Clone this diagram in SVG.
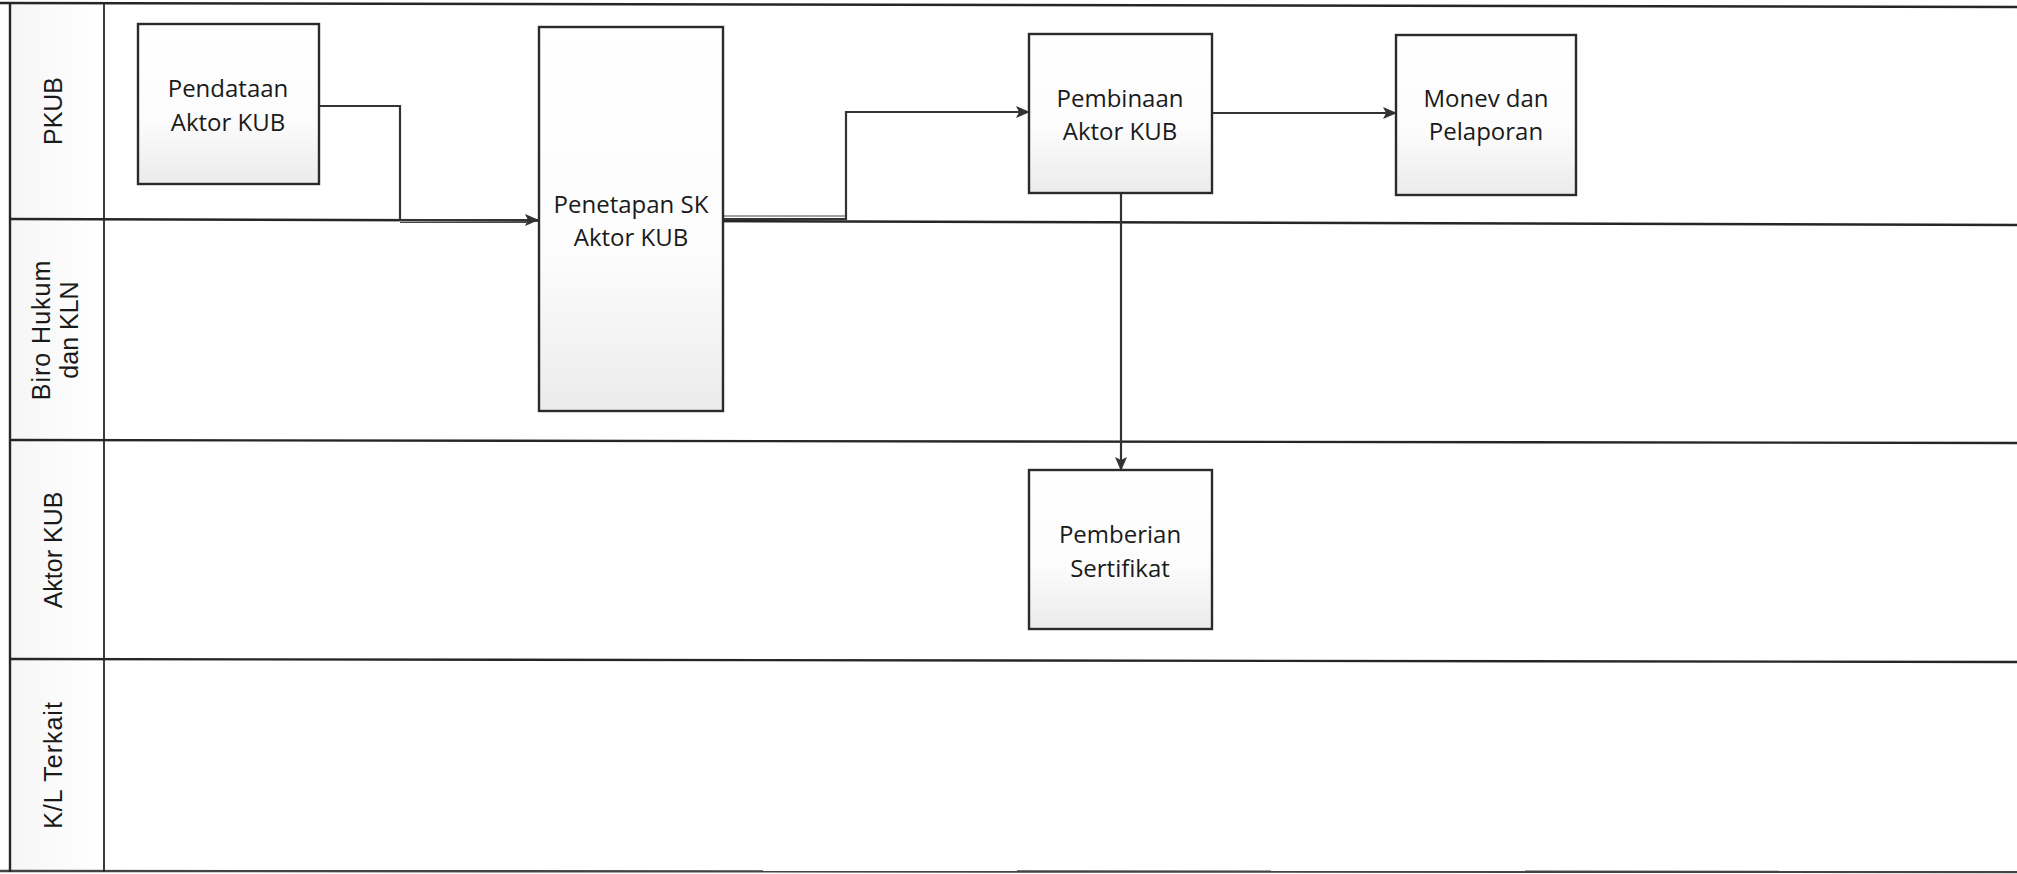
<svg xmlns="http://www.w3.org/2000/svg" width="2017" height="874" viewBox="0 0 2017 874">
<style>
.lane{stroke:#262626;stroke-width:2.4;fill:none}
.box{fill:url(#g);stroke:#2b2b2b;stroke-width:2.4}
.t{font-family:"Open Sans","Noto Sans",sans-serif;font-size:24px;fill:#1a1a1a;text-anchor:middle}
.lt{font-family:"Liberation Sans",Arial,sans-serif;font-size:25px;fill:#1a1a1a;text-anchor:middle}
.c{stroke:#333;stroke-width:2.2;fill:none}
</style>
<defs>
<linearGradient id="g" x1="0" y1="0" x2="0" y2="1">
<stop offset="0" stop-color="#ffffff"/>
<stop offset="0.6" stop-color="#fcfcfc"/>
<stop offset="1" stop-color="#ebebeb"/>
</linearGradient>
<linearGradient id="lg" x1="0" y1="0" x2="1" y2="0">
<stop offset="0" stop-color="#f6f6f6"/>
<stop offset="1" stop-color="#ffffff"/>
</linearGradient>
<marker id="ah" markerWidth="14" markerHeight="12" refX="13" refY="6" orient="auto" markerUnits="userSpaceOnUse">
<path d="M0,0 L14,6 L0,12 L3,6 Z" fill="#333"/>
</marker>
</defs>
<rect x="0" y="0" width="2017" height="874" fill="#ffffff"/>
<g id="lanes">
<rect x="10" y="4" width="94" height="867" fill="url(#lg)"/>
<line class="lane" x1="0" y1="3" x2="2017" y2="7"/>
<line class="lane" x1="10" y1="219" x2="2017" y2="225"/>
<line class="lane" x1="10" y1="440" x2="2017" y2="443"/>
<line class="lane" x1="10" y1="659" x2="2017" y2="662"/>
<line class="lane" x1="0" y1="871" x2="2017" y2="872" style="stroke:#444"/>
<line class="lane" x1="10" y1="3" x2="10" y2="872"/>
<line class="lane" x1="104" y1="3" x2="104" y2="872" style="stroke-width:1.8"/>
<text class="lt" transform="translate(62,111) rotate(-90)">PKUB</text>
<text class="lt" transform="translate(50,330) rotate(-90)" letter-spacing="1">Biro Hukum</text>
<text class="lt" transform="translate(78,330) rotate(-90)">dan KLN</text>
<text class="lt" transform="translate(62,550) rotate(-90)">Aktor KUB</text>
<text class="lt" transform="translate(62,765) rotate(-90)" letter-spacing="1">K/L Terkait</text>
</g>
<g id="connectors">
<polyline class="c" points="319,106 400,106 400,220 538,220" marker-end="url(#ah)"/>
<line x1="400" y1="222.5" x2="528" y2="222.5" stroke="#444" stroke-width="1.2"/>
<polyline class="c" points="723,219 846,219 846,112 1029,112" marker-end="url(#ah)"/>
<line x1="723" y1="216" x2="846" y2="216" stroke="#444" stroke-width="1.2"/>
<line class="c" x1="1212" y1="113" x2="1396" y2="113" marker-end="url(#ah)"/>
<line class="c" x1="1121" y1="193" x2="1121" y2="470" marker-end="url(#ah)"/>
</g>
<g id="n-pendataan">
<rect class="box" x="138" y="24" width="181" height="160"/>
<text class="t" x="228" y="97">Pendataan</text>
<text class="t" x="228" y="131">Aktor KUB</text>
</g>
<g id="n-penetapan">
<rect class="box" x="539" y="27" width="184" height="384"/>
<text class="t" x="631" y="213">Penetapan SK</text>
<text class="t" x="631" y="246">Aktor KUB</text>
</g>
<g id="n-pembinaan">
<rect class="box" x="1029" y="34" width="183" height="159"/>
<text class="t" x="1120" y="107">Pembinaan</text>
<text class="t" x="1120" y="140">Aktor KUB</text>
</g>
<g id="n-monev">
<rect class="box" x="1396" y="35" width="180" height="160"/>
<text class="t" x="1486" y="107">Monev dan</text>
<text class="t" x="1486" y="140">Pelaporan</text>
</g>
<g id="n-pemberian">
<rect class="box" x="1029" y="470" width="183" height="159"/>
<text class="t" x="1120" y="543">Pemberian</text>
<text class="t" x="1120" y="577">Sertifikat</text>
</g>
</svg>
